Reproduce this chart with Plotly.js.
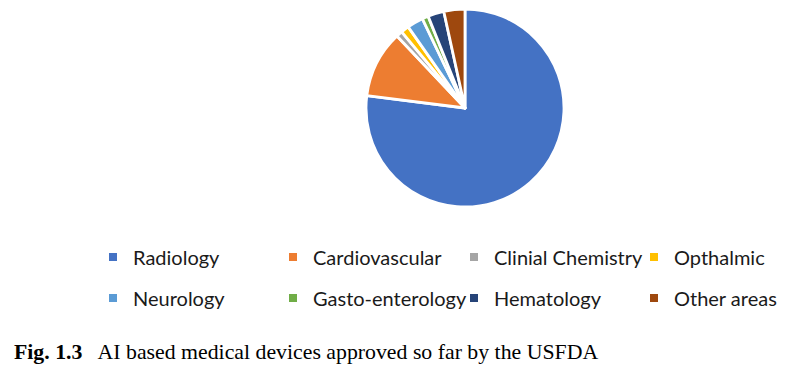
<!DOCTYPE html>
<html>
<head>
<meta charset="utf-8">
<script src="https://cdn.plot.ly/plotly-3.0.1.min.js"></script>
<style>html,body{margin:0;padding:0;background:#fff}#chart{width:788px;height:373px}</style>
</head>
<body>
<div id="chart"></div>
<script>
const categories = ["Radiology", "Cardiovascular", "Clinial Chemistry", "Opthalmic", "Neurology", "Gasto-enterology", "Hematology", "Other areas"];
const values = [76, 10.8, 1.0, 1.3, 2.6, 1.0, 2.6, 3.4];
const colors = ["#4472C4", "#ED7D31", "#A5A5A5", "#FFC000", "#5B9BD5", "#70AD47", "#264478", "#9E480E"];
const caption = "<b>Fig. 1.3</b>   AI based medical devices approved so far by the USFDA";

const W = 788, H = 373;
// legend entry text start positions (px) and row centres
const colX = [133, 313, 494, 674];
const rowY = [257, 298];

const traces = [{
  type: "pie",
  labels: categories,
  values: values,
  sort: false,
  direction: "clockwise",
  rotation: 0,
  textinfo: "none",
  hoverinfo: "label+percent",
  showlegend: false,
  marker: {colors: colors, line: {color: "#ffffff", width: 2.8}},
  domain: {x: [366 / W, 564 / W], y: [(H - 207) / H, (H - 9) / H]}
}];
const layout = {
  width: W, height: H,
  margin: {l: 0, r: 0, t: 0, b: 0},
  paper_bgcolor: "#ffffff", plot_bgcolor: "#ffffff",
  xaxis: {visible: false, domain: [0, 0.01]},
  yaxis: {visible: false, domain: [0, 0.01]},
  annotations: [{
    text: caption, xref: "paper", yref: "paper",
    x: 12 / W, y: 1 - 352 / H, xanchor: "left", yanchor: "middle",
    showarrow: false,
    font: {family: "'Liberation Serif', 'Times New Roman', serif", size: 21.8, color: "#000"}
  }]
};
categories.forEach((c, i) => {
  const key = i === 0 ? "legend" : "legend" + (i + 1);
  traces.push({
    type: "scatter", mode: "markers", x: [null], y: [null], name: c,
    marker: {symbol: "square", size: 8, color: colors[i]},
    legend: key, hoverinfo: "skip"
  });
  layout[key] = {
    x: (colX[i % 4] - 40) / W, y: 1 - rowY[Math.floor(i / 4)] / H,
    xanchor: "left", yanchor: "middle",
    font: {family: "Lato, 'Open Sans', sans-serif", size: 20, color: "#1a1a1a"},
    bgcolor: "rgba(0,0,0,0)", itemsizing: "trace"
  };
});
Plotly.newPlot("chart", traces, layout, {displayModeBar: false, staticPlot: true});
</script>
</body>
</html>
